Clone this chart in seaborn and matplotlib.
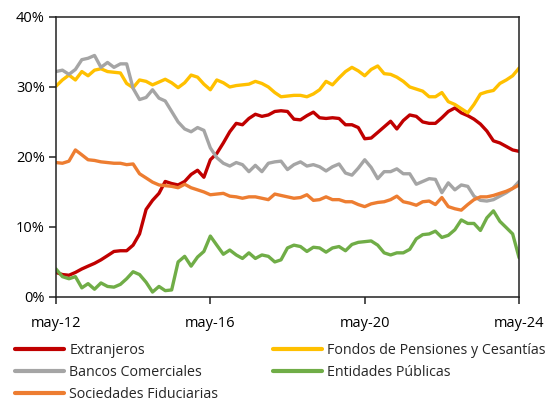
import matplotlib
matplotlib.use("Agg")
import matplotlib.pyplot as plt
from matplotlib.ticker import FuncFormatter
import seaborn as sns
import pandas as pd

dates = pd.date_range("2012-05-01", "2024-05-01", freq="2MS")

extranjeros = [3.5, 3.2, 3.1, 3.5, 4.0, 4.4, 4.8, 5.3, 5.9, 6.5, 6.6, 6.6, 7.4, 9.0, 12.5, 13.8, 14.8,
               16.5, 16.2, 16.0, 16.5, 17.5, 18.1, 17.1, 19.6, 20.5, 22.0, 23.6, 24.8, 24.6, 25.5, 26.1,
               25.8, 26.0, 26.5, 26.6, 26.5, 25.4, 25.3, 25.9, 26.4, 25.6, 25.5, 25.6, 25.5, 24.6, 24.6,
               24.2, 22.6, 22.7, 23.5, 24.3, 25.1, 24.0, 25.2, 26.0, 25.8, 25.0, 24.8, 24.8, 25.6, 26.5,
               27.0, 26.3, 25.9, 25.4, 24.7, 23.7, 22.3, 22.0, 21.5, 21.0, 20.8]
fondos = [30.1, 31.0, 31.7, 31.0, 32.2, 31.6, 32.4, 32.6, 32.2, 32.1, 32.0, 30.5, 29.9, 31.0, 30.8,
          30.3, 30.7, 31.1, 30.6, 29.9, 30.6, 31.7, 31.4, 30.4, 29.6, 31.0, 30.6, 30.0, 30.2, 30.3,
          30.4, 30.8, 30.5, 30.0, 29.2, 28.6, 28.7, 28.8, 28.8, 28.6, 29.0, 29.6, 30.8, 30.3, 31.3,
          32.2, 32.8, 32.3, 31.6, 32.5, 33.0, 31.9, 31.8, 31.4, 30.8, 30.0, 29.7, 29.4, 28.6, 28.6,
          29.2, 27.9, 27.5, 26.9, 26.3, 27.5, 29.0, 29.3, 29.5, 30.5, 31.0, 31.6, 32.7]
bancos = [32.2, 32.4, 31.8, 32.5, 33.9, 34.1, 34.5, 32.8, 33.5, 32.8, 33.3, 33.3, 29.8, 28.2, 28.5,
          29.6, 28.4, 28.0, 26.5, 25.0, 24.0, 23.6, 24.2, 23.8, 21.3, 19.9, 19.1, 18.7, 19.2, 18.9,
          17.9, 18.8, 17.9, 19.1, 19.3, 19.4, 18.2, 18.9, 19.3, 18.7, 18.9, 18.6, 18.0, 18.6, 19.0,
          17.7, 17.4, 18.4, 19.6, 18.5, 16.9, 17.9, 17.9, 18.3, 17.6, 17.6, 16.1, 16.5, 16.9, 16.8,
          14.9, 16.3, 15.3, 16.0, 15.8, 14.4, 13.8, 13.7, 13.9, 14.4, 14.9, 15.5, 16.5]
entidades = [4.0, 2.9, 2.6, 2.9, 1.3, 1.9, 1.1, 2.0, 1.5, 1.4, 1.8, 2.6, 3.6, 3.2, 2.1, 0.7, 1.5, 0.9,
             1.0, 5.0, 5.8, 4.4, 5.7, 6.5, 8.7, 7.4, 6.1, 6.7, 6.0, 5.5, 6.3, 5.5, 6.0, 5.8, 5.0, 5.3,
             7.0, 7.4, 7.2, 6.5, 7.1, 7.0, 6.4, 7.0, 7.2, 6.6, 7.5, 7.8, 7.9, 8.0, 7.4, 6.3, 6.0, 6.3,
             6.3, 6.8, 8.3, 8.9, 9.0, 9.4, 8.5, 8.8, 9.6, 11.0, 10.5, 10.5, 9.5, 11.3, 12.3, 10.8, 9.9,
             9.0, 5.6]
sociedades = [19.2, 19.1, 19.4, 21.0, 20.3, 19.6, 19.5, 19.3, 19.2, 19.1, 19.1, 18.9, 19.0, 17.6, 17.0,
              16.4, 16.0, 15.9, 15.8, 15.6, 16.1, 15.6, 15.3, 15.0, 14.6, 14.7, 14.8, 14.4, 14.3, 14.1,
              14.3, 14.3, 14.1, 13.9, 14.7, 14.5, 14.3, 14.1, 14.2, 14.6, 13.8, 13.9, 14.3, 13.9, 13.9,
              13.6, 13.6, 13.2, 12.9, 13.3, 13.5, 13.6, 13.9, 14.4, 13.6, 13.4, 13.1, 13.6, 13.7, 13.2,
              14.2, 12.9, 12.6, 12.4, 13.2, 13.9, 14.3, 14.3, 14.5, 14.8, 15.1, 15.5, 16.0]

series_names = ["Extranjeros", "Fondos de Pensiones y Cesantías", "Bancos Comerciales",
                "Entidades Públicas", "Sociedades Fiduciarias"]
series_values = [extranjeros, fondos, bancos, entidades, sociedades]
colors = ["#C00000", "#FFC000", "#A5A5A5", "#70AD47", "#ED7D31"]
x_tick_labels = ["may-12", "may-16", "may-20", "may-24"]
x_tick_dates = pd.to_datetime(["2012-05-01", "2016-05-01", "2020-05-01", "2024-05-01"])

df = pd.concat([pd.DataFrame({"fecha": dates, "valor": v, "serie": n})
                for n, v in zip(series_names, series_values)], ignore_index=True)

sns.set_theme(style="white")
plt.rcParams["font.family"] = ["Open Sans", "DejaVu Sans"]

fig = plt.figure(figsize=(5.54, 4.04), dpi=100)
ax = fig.add_axes([0.101, 0.265, 0.836, 0.693])

sns.lineplot(data=df, x="fecha", y="valor", hue="serie", hue_order=series_names,
             palette=colors, linewidth=2.4, ax=ax, legend=False)

ax.set_xlim(dates[0], dates[-1])
ax.set_ylim(0, 40)
ax.set_yticks([0, 10, 20, 30, 40])
ax.yaxis.set_major_formatter(FuncFormatter(lambda v, p: f"{v:.0f}%"))
ax.set_xticks(x_tick_dates)
ax.set_xticklabels(x_tick_labels)
ax.set_xlabel("")
ax.set_ylabel("")
for s in ax.spines.values():
    s.set_visible(True)
    s.set_color("#222222")
    s.set_linewidth(1.1)
ax.tick_params(axis="both", which="major", direction="out", length=5, width=1.1,
               color="#222222", labelsize=10.5, labelcolor="black", pad=3)
ax.tick_params(axis="x", pad=9)
ax.tick_params(left=True, bottom=True)

legend_kw = dict(loc="upper left", frameon=False, fontsize=10.3, handlelength=3.45,
                 handletextpad=0.35, labelspacing=0.48, borderaxespad=0, borderpad=0)
col1 = [0, 2, 4]
col2 = [1, 3]
leg1 = fig.legend([plt.Line2D([], [], color=colors[i], linewidth=3) for i in col1],
                  [series_names[i] for i in col1],
                  bbox_to_anchor=(15 / 554, 0.150), **legend_kw)
leg2 = fig.legend([plt.Line2D([], [], color=colors[i], linewidth=3) for i in col2],
                  [series_names[i] for i in col2],
                  bbox_to_anchor=(273 / 554, 0.150), **legend_kw)

fig.savefig("out.png", dpi=100)
